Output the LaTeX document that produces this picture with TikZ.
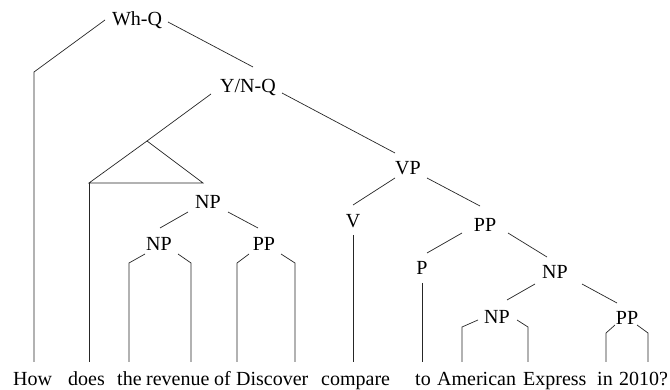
\documentclass[tikz,border=0pt]{standalone}
\usepackage{fontspec}
\setmainfont{Liberation Serif}
\begin{document}
\begin{tikzpicture}[x=1pt,y=-1pt,
  lab/.style={inner sep=0pt,font=\rmfamily\fontsize{20}{24}\selectfont},
  word/.style={inner sep=0pt,anchor=base west,font=\rmfamily\fontsize{20}{24}\selectfont},
  branch/.style={draw=black!85,line width=0.7pt,line join=miter}]
\useasboundingbox (0,0) rectangle (670,390);
% category labels
\node[lab] (whq) at (137,20) {Wh-Q};
\node[lab] (ynq) at (248,88) {Y/N-Q};
\node[lab] (vp) at (408,168) {VP};
\node[lab] (v) at (353,221) {V};
\node[lab] (ppa) at (485,225) {PP};
\node[lab] (p) at (422,268) {P};
\node[lab] (npa) at (555,272) {NP};
\node[lab] (npb) at (497,317) {NP};
\node[lab] (ppb) at (627,318) {PP};
\node[lab] (npc) at (208,202) {NP};
\node[lab] (npd) at (159,244) {NP};
\node[lab] (ppc) at (264,244) {PP};
% words
\node[word] (w1) at (13,385) {How};
\node[word] (w2) at (68,385) {does};
\node[word] (w3) at (117,385) {the};
\node[word] (w4) at (146,385) {revenue};
\node[word] (w5) at (214,385) {of};
\node[word] (w6) at (236,385) {Discover};
\node[word] (w7) at (321,385) {compare};
\node[word] (w8) at (415,385) {to};
\node[word] (w9) at (437,385) {American};
\node[word] (w10) at (523,385) {Express};
\node[word] (w11) at (597,385) {in};
\node[word] (w12) at (619,385) {2010?};
% joints
\coordinate (c1a) at (105,20); \coordinate (c1b) at (34,72); \coordinate (e1) at (34,362);
\coordinate (c2a) at (168,22); \coordinate (c2b) at (253,67);
\coordinate (c3a) at (211,94); \coordinate (tapex) at (147,141);
\coordinate (tl) at (89,183); \coordinate (tr) at (203,183); \coordinate (e2) at (89,362);
\coordinate (c4a) at (282,93); \coordinate (c4b) at (395,153);
\coordinate (c5a) at (395,178); \coordinate (c5b) at (353,205);
\coordinate (c6a) at (427,178); \coordinate (c6b) at (480,206);
\coordinate (c7a) at (353,235); \coordinate (e7) at (353,362);
\coordinate (c8a) at (462,233); \coordinate (c8b) at (427,253);
\coordinate (c9a) at (508,233); \coordinate (c9b) at (547,257);
\coordinate (c10a) at (422,283); \coordinate (e8) at (422,362);
\coordinate (c11a) at (535,284); \coordinate (c11b) at (507,300);
\coordinate (c12a) at (582,284); \coordinate (c12b) at (617,303);
\coordinate (c13a) at (478,320); \coordinate (c13b) at (462,327); \coordinate (e9) at (462,362);
\coordinate (c14a) at (517,320); \coordinate (c14b) at (528,327); \coordinate (e10) at (528,362);
\coordinate (c15a) at (615,325); \coordinate (c15b) at (606,333); \coordinate (e11) at (606,362);
\coordinate (c16a) at (637,325); \coordinate (c16b) at (648,333); \coordinate (e12) at (648,362);
\coordinate (c17a) at (188,212); \coordinate (c17b) at (160,228);
\coordinate (c18a) at (228,212); \coordinate (c18b) at (258,228);
\coordinate (c19a) at (145,254); \coordinate (c19b) at (129,263); \coordinate (e3) at (129,362);
\coordinate (c20a) at (178,254); \coordinate (c20b) at (191,263); \coordinate (e4) at (191,362);
\coordinate (c21a) at (249,254); \coordinate (c21b) at (237,263); \coordinate (e5) at (237,362);
\coordinate (c22a) at (281,254); \coordinate (c22b) at (295,263); \coordinate (e6) at (295,362);
% branches
\draw[branch] (c1a) -- (c1b) -- (e1);
\draw[branch] (c2a) -- (c2b);
\draw[branch] (c3a) -- (tapex);
\draw[branch] (tapex) -- (tl) -- (tr) -- cycle;
\draw[branch] (tl) -- (e2);
\draw[branch] (c4a) -- (c4b);
\draw[branch] (c5a) -- (c5b);
\draw[branch] (c6a) -- (c6b);
\draw[branch] (c7a) -- (e7);
\draw[branch] (c8a) -- (c8b);
\draw[branch] (c9a) -- (c9b);
\draw[branch] (c10a) -- (e8);
\draw[branch] (c11a) -- (c11b);
\draw[branch] (c12a) -- (c12b);
\draw[branch] (c13a) -- (c13b) -- (e9);
\draw[branch] (c14a) -- (c14b) -- (e10);
\draw[branch] (c15a) -- (c15b) -- (e11);
\draw[branch] (c16a) -- (c16b) -- (e12);
\draw[branch] (c17a) -- (c17b);
\draw[branch] (c18a) -- (c18b);
\draw[branch] (c19a) -- (c19b) -- (e3);
\draw[branch] (c20a) -- (c20b) -- (e4);
\draw[branch] (c21a) -- (c21b) -- (e5);
\draw[branch] (c22a) -- (c22b) -- (e6);
\end{tikzpicture}
\end{document}
